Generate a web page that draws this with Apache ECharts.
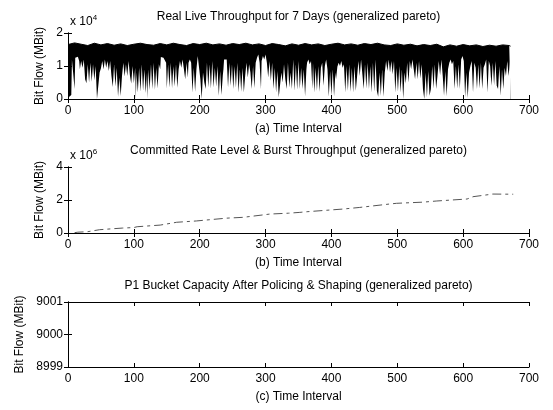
<!DOCTYPE html>
<html><head><meta charset="utf-8">
<script src="https://cdn.jsdelivr.net/npm/echarts@6/dist/echarts.min.js"></script>
<style>html,body{margin:0;padding:0;background:#fff}#c{width:553px;height:410px}</style>
</head><body><div id="c"></div>
<script>
// Panel (a): real live throughput. The trace is so dense that it reads as a band:
// upper envelope (local maxima) and lower envelope (local minima), [time interval, bit flow]
const throughputUpper = [[0,16500],[10,17000],[20,16600],[30,16200],[40,16900],[50,16400],[60,16800],[70,16300],[80,16700],[90,16200],[100,16600],[110,16900],[120,16500],[130,16300],[140,16800],[150,16400],[160,16900],[170,16500],[180,16200],[190,16800],[200,16500],[210,16900],[220,16400],[230,16700],[240,16300],[250,16800],[260,16500],[270,16900],[280,16400],[290,16700],[300,16200],[310,16800],[320,16500],[330,16100],[340,16700],[350,16300],[360,16800],[370,16400],[380,16700],[390,16200],[400,16600],[410,16900],[420,16400],[430,16700],[440,16300],[450,16800],[460,16500],[470,16900],[480,16400],[490,16200],[500,16700],[510,16300],[520,16600],[530,16100],[540,16500],[550,16200],[560,16600],[570,15800],[580,16400],[590,16000],[600,16500],[610,16100],[620,16400],[630,15900],[640,16300],[650,16000],[660,16400],[670,16200],[672,16000]];
const throughputLower = [
[0,14000],[1,500],[3,800],[5,1200],[6,12000],[8,12500],[10,3000],[11,12500],[13,12000],[15,12800],[17,11500],
[18,9000],[20,11500],[22,9500],[24,12000],[26,6000],[28,4800],[30,10500],[32,5000],[34,11000],[36,5200],[38,10500],[40,5700],[42,10000],[44,0],[46,300],[48,8000],
[50,9300],[52,11500],[54,9000],[56,12000],[58,9500],[60,11500],[62,8500],[64,11500],[66,7000],[68,3600],[70,10500],[72,3800],[74,9500],[76,700],[78,6500],[80,900],
[82,7000],[84,11000],[86,6800],[88,10500],[90,7000],[92,11500],[94,7200],[96,4700],[98,10000],[100,4800],[102,9500],[103,0],[104,8000],
[106,2000],[108,9500],[110,2200],[112,10500],[114,2500],[116,9000],[118,1800],[120,8000],[121,0],[122,9000],
[124,2700],[126,10500],[128,3000],[130,11000],[132,2800],[134,9500],[136,3200],[138,10500],[140,9000],
[141,12700],[143,13000],[145,12500],[147,12800],[149,11000],
[150,3200],[152,10500],[154,3500],[156,11000],[158,3300],[160,10000],[162,3800],[164,10500],[166,3400],
[168,9000],[170,11500],[172,9500],[174,12000],[176,9000],[178,6000],[180,11000],[182,6500],
[183,11000],[185,12000],[187,11000],[189,2000],[191,9500],[193,2200],[195,9000],[197,13000],[199,12500],
[201,6000],[203,0],[205,8000],[207,5000],
[209,3000],[211,11000],[213,3500],[215,10500],[217,3200],[219,11500],[221,3500],[223,9500],[225,3800],[227,10000],
[229,1000],[231,8500],[233,1200],[235,7000],[236,9000],
[237,12000],[239,12500],[241,12000],
[243,3500],[245,11000],[247,4000],[249,10500],[251,3000],[253,10000],[255,3500],[257,11000],
[259,2000],[261,9000],[263,2200],[265,9500],[267,2000],
[269,7000],[271,11000],[273,6500],[275,10500],[277,8000],[279,3000],[281,10000],[283,3300],[285,11000],
[287,12500],[289,13500],[291,11000],[293,3000],[294,11500],[296,13000],[298,12000],[300,13500],[302,11000],
[304,6500],[306,11500],[308,5500],[310,11000],[312,3000],[314,9500],[316,2000],[318,8500],[320,500],[322,0],[324,8000],
[326,5000],[328,10500],[330,6000],[332,3000],[334,11000],[336,3500],
[338,8000],[340,3000],[342,12000],[344,2500],[346,10500],[348,2800],[350,11500],[352,3000],
[354,9500],[356,3000],[358,9000],[360,800],[362,9000],
[363,11000],[365,12000],[367,10500],[369,11500],[371,3000],[372,11000],
[374,2000],[376,9500],[378,2500],[380,10000],[382,2200],
[384,9500],[386,11000],[388,4000],[390,10000],[392,12000],[394,9000],
[396,700],[398,8500],[400,1000],[402,9000],[404,800],[406,8000],[407,6000],
[409,9800],[411,11000],[413,10000],[415,11500],[417,9500],[419,10500],
[421,2000],[423,10000],[425,2500],[427,10500],[429,2200],[431,9500],[433,2000],[435,10000],[437,2500],
[439,7000],[441,11500],[443,7000],[445,12000],[447,7500],
[449,3000],[451,10500],[453,3200],[455,11000],[457,3000],[459,10000],
[461,2000],[463,11000],[465,2200],[467,12000],[469,2500],
[471,700],[473,8000],[475,1000],[477,9000],[479,700],
[481,8000],[483,11500],[485,8500],[487,12000],[489,8000],[491,11500],[493,7500],[495,11500],
[497,2000],[499,9500],[501,2200],[503,10000],[505,2000],[507,9000],[509,0],[511,8000],
[513,4700],[515,11000],[517,5000],[519,11500],[521,9000],[523,12000],[525,9000],
[527,6000],[529,11000],[531,6000],[533,11500],[535,6200],[537,10500],
[539,3000],[541,0],[543,8000],[545,500],[547,8500],[549,1000],
[551,3000],[553,10000],[555,3200],[557,10500],[559,3000],
[561,7000],[563,11500],[565,7200],[567,12000],[569,7000],
[571,1000],[573,8500],[575,800],[577,9000],
[579,11000],[581,12000],[583,10500],[585,11500],
[587,3000],[589,10000],[591,3200],[593,10500],[595,3000],
[597,12000],[599,13000],[601,11500],
[603,500],[605,8000],[607,300],[609,8000],
[611,10000],[613,11500],[615,2000],[617,11000],[619,9500],
[621,3000],[623,10500],[625,3200],[627,11000],[629,3000],[631,9500],
[633,10500],[635,12000],[637,2000],[639,11500],[641,10000],
[643,4000],[645,11000],[647,4200],[649,11500],[651,4000],
[653,3000],[655,10000],[657,1000],[659,9000],[661,3000],[663,9500],
[665,7000],[667,11500],[669,7000],[671,11000],[672,14000]
];
// Panel (b): committed rate level & burst throughput
const committedPts = [
[10,20000],[15,50000],[30,80000],[48,200000],[65,250000],[83,300000],[100,330000],[105,380000],[140,480000],[165,650000],[195,730000],[211,790000],[241,900000],[266,950000],[307,1150000],[335,1200000],[352,1250000],[363,1290000],[417,1450000],[443,1550000],[489,1760000],[499,1800000],[539,1870000],[560,1940000],[606,2060000],[615,2200000],[645,2360000],[676,2350000]
];
// Panel (c): P1 bucket capacity (nothing visible in the reference)
const bucketPts = [];

const titles = ['Real Live Throughput for 7 Days (generalized pareto)',
  'Committed Rate Level & Burst Throughput (generalized pareto)',
  'P1 Bucket Capacity After Policing & Shaping (generalized pareto)'];
const xNames = ['(a) Time Interval','(b) Time Interval','(c) Time Interval'];
const yName = 'Bit Flow (MBit)';
const yRanges = [[0,20000,10000,1e4],[0,4000000,2000000,1e6],[8999,9001,1,1]];
const xTicks = [0,700,100];

const FONT = 'Liberation Sans';
const tops = [33,167,302];
const heights = [66,66,65];
const chart = echarts.init(document.getElementById('c'));

const grids=[], xAxes=[], yAxes=[], series=[];
for (let i=0;i<3;i++){
  grids.push({left:68,right:24,top:tops[i],height:heights[i],show:false});
  const tickCommon = {show:true,inside:true,length:4,lineStyle:{color:'#000',width:1}};
  xAxes.push({type:'value',gridIndex:i,z:10,min:xTicks[0],max:xTicks[1],interval:xTicks[2],position:'bottom',
    name:xNames[i],nameLocation:'middle',nameGap:24,nameTextStyle:{fontFamily:FONT,fontSize:12,color:'#000'},
    axisLine:{show:true,lineStyle:{color:'#000',width:1}},axisTick:tickCommon,
    axisLabel:{fontFamily:FONT,fontSize:12,color:'#000',margin:6},splitLine:{show:false}});
  xAxes.push({type:'value',gridIndex:i,z:10,min:xTicks[0],max:xTicks[1],interval:xTicks[2],position:'top',
    axisLine:{show:true,lineStyle:{color:'#000',width:1}},axisTick:tickCommon,
    axisLabel:{show:false},splitLine:{show:false}});
  const yr = yRanges[i];
  yAxes.push({type:'value',gridIndex:i,z:10,min:yr[0],max:yr[1],interval:yr[2],position:'left',
    name:yName,nameLocation:'middle',nameGap: i===2?42:20,nameRotate:90,
    nameTextStyle:{fontFamily:FONT,fontSize:12,color:'#000'},
    axisLine:{show:true,lineStyle:{color:'#000',width:1}},axisTick:tickCommon,
    axisLabel:{fontFamily:FONT,fontSize:12,color:'#000',margin:5,formatter:v=>String(Math.round(v/yr[3]))},
    splitLine:{show:false}});
  yAxes.push({type:'value',gridIndex:i,z:10,min:yr[0],max:yr[1],interval:yr[2],position:'right',
    axisLine:{show:true,lineStyle:{color:'#000',width:1}},axisTick:tickCommon,
    axisLabel:{show:false},splitLine:{show:false}});
}
series.push({type:'line',xAxisIndex:0,yAxisIndex:0,data:throughputUpper,showSymbol:false,animation:false,z:2,
  lineStyle:{color:'#000',width:1},areaStyle:{color:'#000',opacity:1}});
series.push({type:'line',xAxisIndex:0,yAxisIndex:0,data:throughputLower,showSymbol:false,animation:false,z:3,
  lineStyle:{color:'#fff',width:0},areaStyle:{color:'#fff',opacity:1}});
series.push({type:'line',xAxisIndex:2,yAxisIndex:2,data:committedPts,showSymbol:false,animation:false,
  lineStyle:{color:'#555',width:1,type:[9,4,3,4]}});
series.push({type:'line',xAxisIndex:4,yAxisIndex:4,data:bucketPts,showSymbol:false,animation:false,
  lineStyle:{color:'#000',width:1}});

const gfx = titles.map((t,i)=>({type:'text',x:298.5,y:tops[i]-16,style:{text:t,font:'12px '+FONT,fill:'#000',align:'center',verticalAlign:'middle'}}));
gfx.push({type:'text',x:70,y:22,style:{rich:{a:{font:'12px '+FONT,fill:'#000'},s:{font:'8px '+FONT,fill:'#000',padding:[0,0,9,0]}},text:'{a|x 10}{s|4}',verticalAlign:'middle'}});
gfx.push({type:'text',x:70,y:156,style:{rich:{a:{font:'12px '+FONT,fill:'#000'},s:{font:'8px '+FONT,fill:'#000',padding:[0,0,9,0]}},text:'{a|x 10}{s|6}',verticalAlign:'middle'}});

chart.setOption({
  backgroundColor:'#fff',animation:false,
  grid:grids,xAxis:xAxes,yAxis:yAxes,series:series,graphic:gfx
});
</script></body></html>
